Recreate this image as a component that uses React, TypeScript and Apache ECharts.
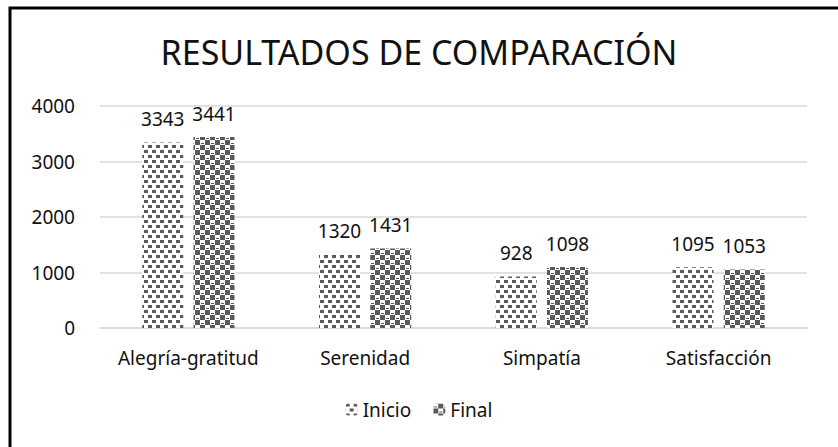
import React, { useEffect, useRef } from "react";
import * as echarts from "echarts";

const categories = ["Alegría-gratitud", "Serenidad", "Simpatía", "Satisfacción"];
const inicio = [3343, 1320, 928, 1095];
const final = [3441, 1431, 1098, 1053];
const seriesNames = ["Inicio", "Final"];
const titleText = "RESULTADOS DE COMPARACIÓN";

const DARK = "#595959";

function makeInicioPattern(): HTMLCanvasElement {
  const c = document.createElement("canvas");
  c.width = 8;
  c.height = 10;
  const ctx = c.getContext("2d")!;
  ctx.fillStyle = "#ffffff";
  ctx.fillRect(0, 0, 8, 10);
  ctx.fillStyle = DARK;
  ctx.fillRect(0, 0, 4, 3);
  ctx.fillRect(4, 5, 4, 3);
  return c;
}

function makeFinalPattern(): HTMLCanvasElement {
  const c = document.createElement("canvas");
  c.width = 10;
  c.height = 10;
  const ctx = c.getContext("2d")!;
  ctx.fillStyle = DARK;
  ctx.fillRect(0, 0, 10, 10);
  ctx.fillStyle = "#ffffff";
  ctx.fillRect(0, 0, 5, 5);
  ctx.fillRect(5, 5, 5, 5);
  ctx.fillStyle = DARK;
  ctx.fillRect(1, 3, 3, 1);
  ctx.fillRect(6, 8, 3, 1);
  return c;
}

export default function App() {
  const ref = useRef<HTMLDivElement>(null);
  useEffect(() => {
    document.body.style.margin = "0";
    const chart = echarts.init(ref.current!, null, { renderer: "svg" });
    const pInicio = { image: makeInicioPattern(), repeat: "repeat" };
    const pFinal = { image: makeFinalPattern(), repeat: "repeat" };
    const font = "Noto Sans";
    chart.setOption({
      animation: false,
      backgroundColor: "#ffffff",
      textStyle: { fontFamily: font },
      title: {
        text: titleText,
        left: "center",
        top: 30,
        textStyle: { fontFamily: font, fontSize: 34, fontWeight: "normal", color: "#111" },
      },
      legend: {
        bottom: 23,
        left: "center",
        itemWidth: 12,
        itemHeight: 12,
        itemGap: 22,
        textStyle: { fontFamily: font, fontSize: 19, color: "#111" },
        data: seriesNames,
      },
      grid: { left: 100, right: 31, top: 106, bottom: 447 - 328, containLabel: false },
      xAxis: {
        type: "category",
        data: categories,
        axisLine: { lineStyle: { color: "#d9d9d9", width: 1.5 } },
        axisTick: { show: false },
        axisLabel: { interval: 0, fontFamily: font, fontSize: 19, color: "#111", margin: 20 },
      },
      yAxis: {
        type: "value",
        min: 0,
        max: 4000,
        interval: 1000,
        axisLine: { show: false },
        axisTick: { show: false },
        splitLine: { lineStyle: { color: "#d9d9d9", width: 1.5 } },
        axisLabel: {
          fontFamily: font,
          fontSize: 19,
          color: "#111",
          margin: 25,
          formatter: (v: number) => String(v),
        },
      },
      series: [
        {
          name: seriesNames[0],
          type: "bar",
          data: inicio,
          barWidth: 41,
          barGap: "25%",
          itemStyle: { color: pInicio },
          label: { show: true, position: "top", distance: 14, fontFamily: font, fontSize: 19, color: "#111" },
        },
        {
          name: seriesNames[1],
          type: "bar",
          data: final,
          barWidth: 41,
          barGap: "25%",
          itemStyle: { color: pFinal },
          label: { show: true, position: "top", distance: 14, fontFamily: font, fontSize: 19, color: "#111" },
        },
      ],
      graphic: [
        {
          type: "rect",
          shape: { x: 10, y: 8, width: 1000, height: 1000 },
          style: { fill: "none", stroke: "#000", lineWidth: 3 },
          silent: true,
        },
      ],
    });
    return () => chart.dispose();
  }, []);
  return <div ref={ref} style={{ width: 838, height: 447 }} />;
}
